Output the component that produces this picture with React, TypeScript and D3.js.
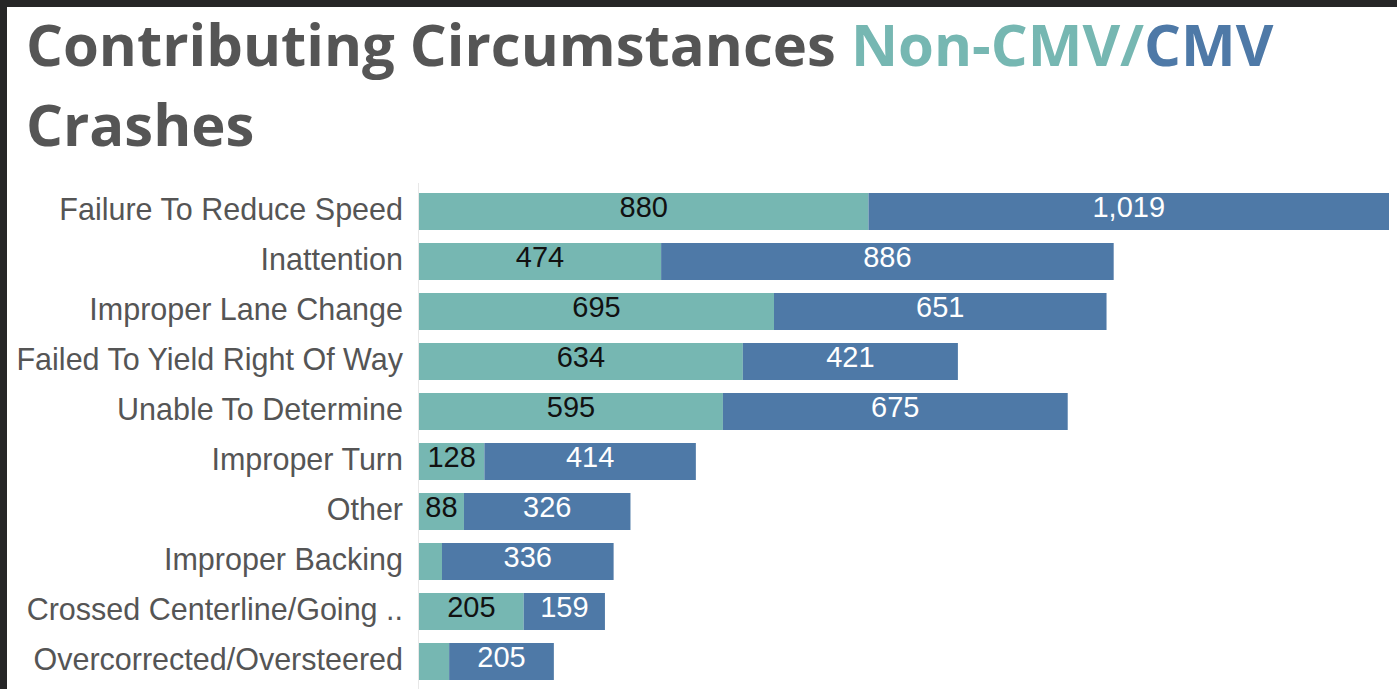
import React, { useRef, useEffect } from "react";
import * as d3 from "d3";

const categories = [
  "Failure To Reduce Speed",
  "Inattention",
  "Improper Lane Change",
  "Failed To Yield Right Of Way",
  "Unable To Determine",
  "Improper Turn",
  "Other",
  "Improper Backing",
  "Crossed Centerline/Going ..",
  "Overcorrected/Oversteered",
];
// Non-CMV (teal) and CMV (blue) crash counts
const nonCmv = [880, 474, 695, 634, 595, 128, 88, 45, 205, 59];
const cmv = [1019, 886, 651, 421, 675, 414, 326, 336, 159, 205];

const TEAL = "#76b7b2";
const BLUE = "#4e79a7";
const GRAY = "#555555";

const App = () => {
  const svgRef = useRef<SVGSVGElement>(null);

  useEffect(() => {
    const svg = d3.select(svgRef.current);
    svg.selectAll("*").remove();

    const width = 1397;
    const height = 689;
    svg.attr("width", width).attr("height", height);

    svg.append("rect").attr("width", width).attr("height", height).attr("fill", "#fff");
    // dark frame of the screenshot
    svg.append("rect").attr("width", width).attr("height", 7).attr("fill", "#262627");
    svg.append("rect").attr("width", 7).attr("height", height).attr("fill", "#262627");

    // title
    const titleFont = "'Open Sans', 'Noto Sans', sans-serif";
    const title = svg
      .append("text")
      .attr("x", 26)
      .attr("y", 66)
      .attr("font-family", titleFont)
      .attr("font-weight", 700)
      .attr("font-size", 58)
      .attr("fill", GRAY);
    title.append("tspan").text("Contributing Circumstances ");
    title.append("tspan").attr("fill", TEAL).text("Non-CMV/");
    title.append("tspan").attr("fill", BLUE).text("CMV");
    svg
      .append("text")
      .attr("x", 26)
      .attr("y", 146)
      .attr("font-family", titleFont)
      .attr("font-weight", 700)
      .attr("font-size", 58)
      .attr("fill", GRAY)
      .text("Crashes");

    const totals = categories.map((_, i) => nonCmv[i] + cmv[i]);

    const xScale = d3
      .scaleLinear()
      .domain([0, d3.max(totals) as number])
      .range([419, 1389]);

    const yScale = d3
      .scaleBand<string>()
      .domain(categories)
      .range([186.5, 686.5])
      .paddingInner(0.26)
      .paddingOuter(0.13);

    // axis line
    svg
      .append("line")
      .attr("x1", 418.5)
      .attr("x2", 418.5)
      .attr("y1", 183)
      .attr("y2", height)
      .attr("stroke", "#e8e8e8")
      .attr("stroke-width", 1);

    const fontSize = 29;
    const font = "'Liberation Sans', Arial, sans-serif";

    // category labels
    svg
      .selectAll("text.cat")
      .data(categories)
      .enter()
      .append("text")
      .attr("class", "cat")
      .attr("x", 403)
      .attr("y", (d) => (yScale(d) as number) + yScale.bandwidth() / 2 + 8)
      .attr("text-anchor", "end")
      .attr("font-family", font)
      .attr("font-size", 30.5)
      .attr("fill", GRAY)
      .text((d) => d);

    const rows = categories.map((c, i) => ({ c, a: nonCmv[i], b: cmv[i] }));

    const g = svg.selectAll("g.row").data(rows).enter().append("g").attr("class", "row");

    g.append("rect")
      .attr("x", xScale(0))
      .attr("y", (d) => yScale(d.c) as number)
      .attr("width", (d) => xScale(d.a) - xScale(0))
      .attr("height", yScale.bandwidth())
      .attr("fill", TEAL);

    g.append("rect")
      .attr("x", (d) => xScale(d.a))
      .attr("y", (d) => yScale(d.c) as number)
      .attr("width", (d) => xScale(d.a + d.b) - xScale(d.a))
      .attr("height", yScale.bandwidth())
      .attr("fill", BLUE);

    const fmt = d3.format(",");
    const fits = (v: number, w: number) => fmt(v).length * 0.556 * fontSize <= w + 2;

    // value labels, hidden when they don't fit the segment
    g.filter((d) => fits(d.a, xScale(d.a) - xScale(0)))
      .append("text")
      .attr("x", (d) => (xScale(0) + xScale(d.a)) / 2)
      .attr("y", (d) => (yScale(d.c) as number) + yScale.bandwidth() / 2 + 5)
      .attr("text-anchor", "middle")
      .attr("font-family", font)
      .attr("font-size", fontSize)
      .attr("fill", "#111")
      .text((d) => fmt(d.a));

    g.filter((d) => fits(d.b, xScale(d.a + d.b) - xScale(d.a)))
      .append("text")
      .attr("x", (d) => (xScale(d.a) + xScale(d.a + d.b)) / 2)
      .attr("y", (d) => (yScale(d.c) as number) + yScale.bandwidth() / 2 + 5)
      .attr("text-anchor", "middle")
      .attr("font-family", font)
      .attr("font-size", fontSize)
      .attr("fill", "#fff")
      .text((d) => fmt(d.b));
  }, []);

  return (
    <svg
      ref={svgRef}
      style={{ position: "absolute", left: 0, top: 0, display: "block" }}
    />
  );
};

export default App;
